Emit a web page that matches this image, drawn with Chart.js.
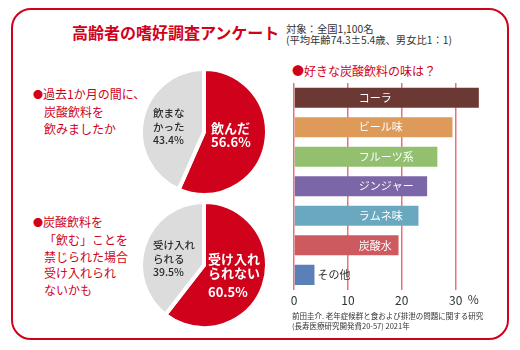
<!DOCTYPE html>
<html lang="ja">
<head>
<meta charset="utf-8">
<script src="https://cdn.jsdelivr.net/npm/chart.js@4.4.1/dist/chart.umd.min.js"></script>
<style>
  body { margin: 0; background: #fff; font-family: 'Noto Sans CJK JP', sans-serif; }
  #wrap { position: relative; width: 520px; height: 350px; overflow: hidden; }
  .frame { position: absolute; left: 11px; top: 8px; width: 498px; height: 332px;
           box-sizing: border-box; border: 2px solid #d0021b; border-radius: 20px; }
  .t { position: absolute; white-space: nowrap; }
  .title { left: 72px; top: 22px; font-size: 16px; line-height: 20px; font-weight: bold; color: #d0021b; }
  .sub { left: 286px; top: 23px; font-size: 10.3px; line-height: 11px; color: #333; }
  .q { left: 33px; font-size: 12px; line-height: 16.8px; color: #d0021b; padding-left: 11px; text-indent: -11px; }
  .q .b { font-size: 10px; }
  .btitle { left: 292px; top: 63px; font-size: 12px; line-height: 16px; color: #d0021b; }
  .pin { color: #fff; font-weight: bold; font-size: 13px; line-height: 14px; text-align: left; }
  .pout { color: #2a2a2a; font-size: 10.5px; line-height: 13.5px; font-weight: 500; }
  .note { left: 292px; top: 311px; font-size: 7.5px; line-height: 9.5px; color: #333; }
  canvas { position: absolute; }
</style>
</head>
<body>
<div id="wrap">
  <div class="frame"></div>
  <div class="t title">高齢者の嗜好調査アンケート</div>
  <div class="t sub">対象：全国1,100名<br>(平均年齢74.3±5.4歳、男女比1：1)</div>

  <div class="t q" style="top:86px"><span class="b">●</span>過去1か月の間に、<br>炭酸飲料を<br>飲みましたか</div>
  <div class="t q" style="top:214px"><span class="b">●</span>炭酸飲料を<br>「飲む」ことを<br>禁じられた場合<br>受け入れられ<br>ないかも</div>

  <canvas id="pie1" width="130" height="130" style="left:139px;top:67px"></canvas>
  <canvas id="pie2" width="130" height="130" style="left:139px;top:200px"></canvas>

  <div class="t pout" id="p1out" style="left:153px;top:106px"></div>
  <div class="t pin" id="p1in" style="left:211px;top:121px"></div>
  <div class="t pout" id="p2out" style="left:153px;top:238px"></div>
  <div class="t pin" id="p2in" style="left:208px;top:252px"></div>

  <div class="t btitle">●好きな炭酸飲料の味は？</div>
  <canvas id="bars" width="222" height="234" style="left:284px;top:78px"></canvas>

  <div class="t note">前田圭介. 老年症候群と食および排泄の問題に関する研究<br>(長寿医療研究開発費20-57) 2021年</div>
</div>

<script>
// ---- data ----
var DRANK_LABELS = ['飲んだ', '飲まな<br>かった'];
var DRANK_VALUES = [56.6, 43.4];

var BAN_LABELS = ['受け入れ<br>られない', '受け入れ<br>られる'];
var BAN_VALUES = [60.5, 39.5];

var FLAVORS = ['コーラ', 'ビール味', 'フルーツ系', 'ジンジャー', 'ラムネ味', '炭酸水', 'その他'];
var FLAVOR_VALUES = [34.3, 29.4, 26.6, 24.7, 23.1, 19.4, 3.8];
var X_TICKS = [0, 10, 20, 30];

// ---- colours ----
var RED = '#d0021b';
var GRAY = '#dcdcdc';
var FLAVOR_COLORS = ['#6b3833', '#dd9a58', '#92c06e', '#7b67a8', '#6aa8c0', '#cc5a5e', '#5b80b8'];

Chart.defaults.font.family = "'Noto Sans CJK JP', sans-serif";

function pie(id, values) {
    return new Chart(document.getElementById(id), {
        type: 'pie',
        data: {
            datasets: [{
                data: values,
                backgroundColor: [RED, GRAY],
                borderColor: '#fff',
                borderWidth: 4
            }]
        },
        options: {
            responsive: false,
            animation: false,
            events: [],
            layout: { padding: 0 },
            plugins: { legend: { display: false }, tooltip: { enabled: false } }
        }
    });
}

pie('pie1', DRANK_VALUES);
pie('pie2', BAN_VALUES);

// slice texts
document.getElementById('p1in').innerHTML = DRANK_LABELS[0] + '<br>' + DRANK_VALUES[0].toFixed(1) + '%';
document.getElementById('p1out').innerHTML = DRANK_LABELS[1] + '<br>' + DRANK_VALUES[1].toFixed(1) + '%';
document.getElementById('p2in').innerHTML = BAN_LABELS[0] + '<br><span style="display:inline-block;margin-top:5px">' + BAN_VALUES[0].toFixed(1) + '%</span>';
document.getElementById('p2out').innerHTML = BAN_LABELS[1] + '<br>' + BAN_VALUES[1].toFixed(1) + '%';

// labels in / beside the bars, plus the "%" unit
var barLabels = {
    id: 'barLabels',
    afterDatasetsDraw: function (chart) {
        var ctx = chart.ctx;
        var xs = chart.scales.x;
        var meta = chart.getDatasetMeta(0);
        ctx.save();
        ctx.font = "11px 'Noto Sans CJK JP'";
        ctx.textBaseline = 'middle';
        ctx.textAlign = 'left';
        meta.data.forEach(function (bar, i) {
            if (FLAVOR_VALUES[i] > 15) {
                ctx.fillStyle = '#fff';
                ctx.fillText(FLAVORS[i], xs.getPixelForValue(12), bar.y);
            } else {
                ctx.fillStyle = '#333';
                ctx.fillText(FLAVORS[i], bar.x + 3, bar.y);
            }
        });
        ctx.font = "12px 'Noto Sans CJK JP'";
        ctx.fillStyle = '#333';
        ctx.textBaseline = 'top';
        ctx.fillText('%', xs.getPixelForValue(30) + 12, chart.chartArea.bottom + 4);
        ctx.restore();
    }
};

new Chart(document.getElementById('bars'), {
    type: 'bar',
    data: {
        labels: FLAVORS,
        datasets: [{
            data: FLAVOR_VALUES,
            backgroundColor: FLAVOR_COLORS,
            categoryPercentage: 1,
            barPercentage: 0.68
        }]
    },
    options: {
        indexAxis: 'y',
        responsive: false,
        animation: false,
        events: [],
        layout: { padding: { left: 10, right: 18, top: 5, bottom: 0 } },
        plugins: { legend: { display: false }, tooltip: { enabled: false } },
        scales: {
            y: { display: false },
            x: {
                min: 0,
                max: 36,
                afterBuildTicks: function (axis) {
                    axis.ticks = X_TICKS.map(function (v) { return { value: v }; });
                },
                ticks: { color: '#333', font: { size: 12 }, padding: 4 },
                grid: { color: '#ec6f7b', lineWidth: 1.5, drawTicks: false },
                border: { display: false }
            }
        }
    },
    plugins: [barLabels]
});
</script>
</body>
</html>
